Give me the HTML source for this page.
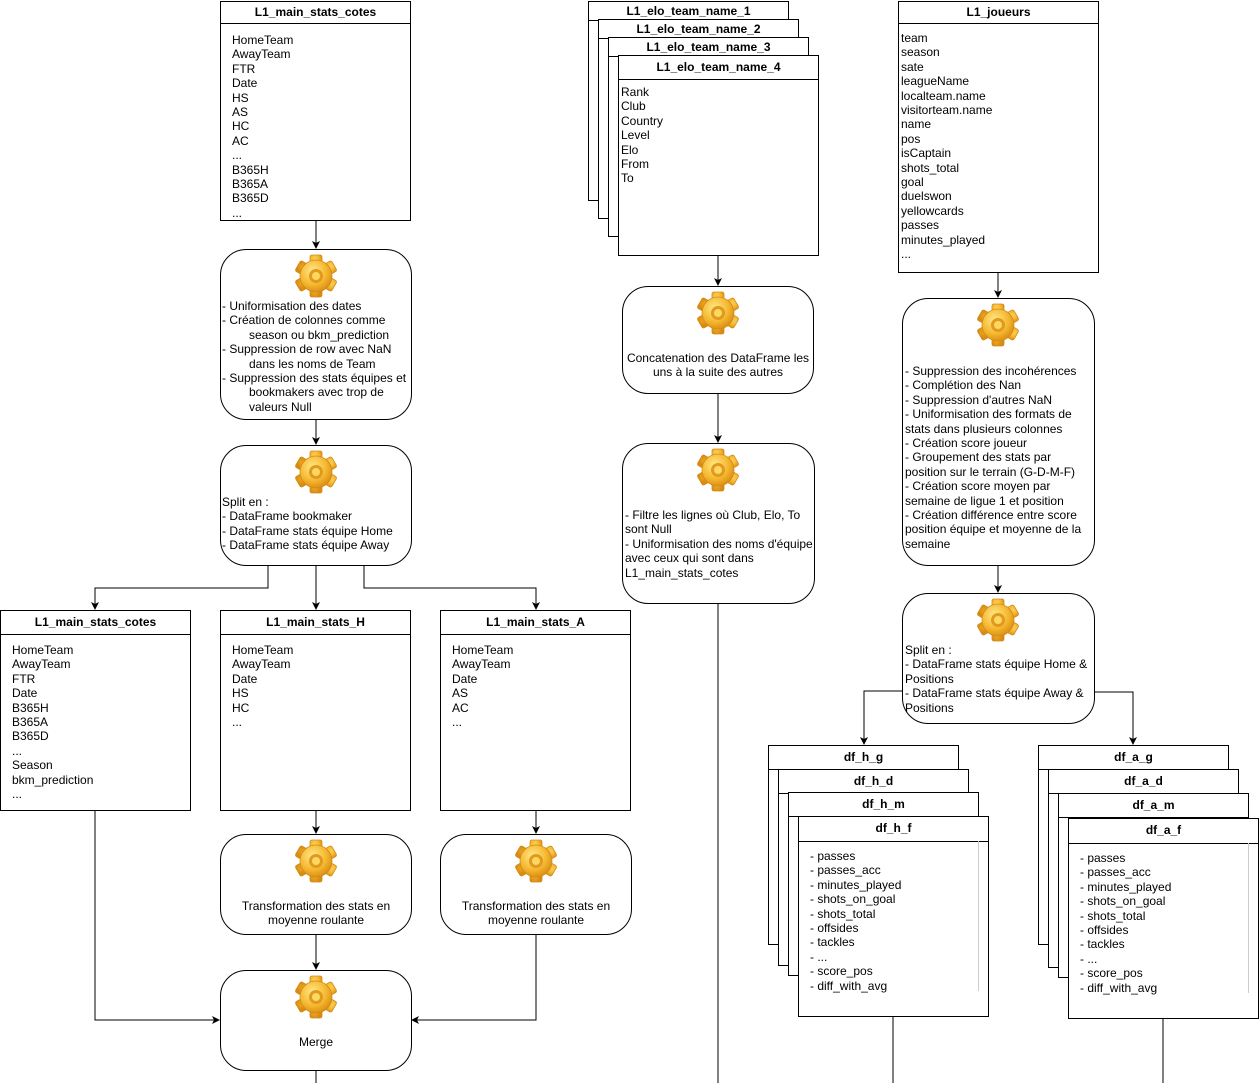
<!DOCTYPE html>
<html><head><meta charset="utf-8"><style>
body{margin:0;width:1260px;height:1083px;background:#fff;position:relative;overflow:hidden;font-family:"Liberation Sans",sans-serif;font-size:12px;color:#000}
.b{position:absolute;border:1px solid #000;background:#fff;box-sizing:border-box}
.h{position:absolute;left:0;right:0;top:0;border-bottom:1px solid #000;text-align:center;font-weight:bold;font-size:12px;box-sizing:border-box}
.t{position:absolute;line-height:14.4px;white-space:pre;font-size:12px}
.i{padding-left:27px}
.p{position:absolute;border:1px solid #000;border-radius:26px;background:#fff;box-sizing:border-box}
svg{position:absolute;left:0;top:0}
</style></head><body>
<svg width="1260" height="1083" style="z-index:0">
<defs><marker id="a" markerWidth="8" markerHeight="8" refX="7" refY="4" orient="auto" markerUnits="userSpaceOnUse"><path d="M0,0 L8,4 L0,8 L2,4z" fill="#000"/></marker></defs>
<g stroke="#000" fill="none" stroke-width="1" marker-end="url(#a)">
<path d="M316 220V248"/><path d="M316 419V444"/>
<path d="M268 565V588H95V609"/><path d="M316 565V609"/><path d="M364 565V588H536V609"/>
<path d="M316 800V833"/><path d="M536 800V833"/><path d="M316 934V969"/>
<path d="M95 810V1020H219"/><path d="M536 934V1020H412"/>
<path d="M718 255V285"/><path d="M718 393V442"/>
<path d="M998 272V297"/><path d="M998 565V592"/>
<path d="M902 691H864V744"/><path d="M1094 692H1133V744"/>
</g>
<g stroke="#000"><path d="M316 1070V1083M718 603V1083M893 1016V1083M1163 1018V1083"/></g>
</svg>

<div class="b" style="left:220px;top:1px;width:191px;height:220px"><div class="h" style="height:22px;line-height:21px">L1_main_stats_cotes</div></div>
<div class="t" style="left:232px;top:33px">HomeTeam
AwayTeam
FTR
Date
HS
AS
HC
AC
...
B365H
B365A
B365D
...</div>

<div class="p" style="left:220px;top:249px;width:192px;height:171px"></div>
<div class="t" style="left:222px;top:299px">- Uniformisation des dates
- Création de colonnes comme
<span class="i">season ou bkm_prediction</span>
- Suppression de row avec NaN
<span class="i">dans les noms de Team</span>
- Suppression des stats équipes et
<span class="i">bookmakers avec trop de</span>
<span class="i">valeurs Null</span></div>

<div class="p" style="left:220px;top:445px;width:192px;height:121px"></div>
<div class="t" style="left:222px;top:495px">Split en :
- DataFrame bookmaker
- DataFrame stats équipe Home
- DataFrame stats équipe Away</div>

<div class="b" style="left:0px;top:610px;width:191px;height:201px"><div class="h" style="height:24px;line-height:23px">L1_main_stats_cotes</div></div>
<div class="t" style="left:12px;top:643px">HomeTeam
AwayTeam
FTR
Date
B365H
B365A
B365D
...
Season
bkm_prediction
...</div>
<div class="b" style="left:220px;top:610px;width:191px;height:201px"><div class="h" style="height:24px;line-height:23px">L1_main_stats_H</div></div>
<div class="t" style="left:232px;top:643px">HomeTeam
AwayTeam
Date
HS
HC
...</div>
<div class="b" style="left:440px;top:610px;width:191px;height:201px"><div class="h" style="height:24px;line-height:23px">L1_main_stats_A</div></div>
<div class="t" style="left:452px;top:643px">HomeTeam
AwayTeam
Date
AS
AC
...</div>

<div class="p" style="left:220px;top:834px;width:192px;height:101px"></div>
<div class="t" style="left:220px;width:192px;text-align:center;top:899px">Transformation des stats en
moyenne roulante</div>
<div class="p" style="left:440px;top:834px;width:192px;height:101px"></div>
<div class="t" style="left:440px;width:192px;text-align:center;top:899px">Transformation des stats en
moyenne roulante</div>
<div class="p" style="left:220px;top:970px;width:192px;height:101px"></div>
<div class="t" style="left:220px;width:192px;text-align:center;top:1035px">Merge</div>

<div class="b" style="left:588px;top:1px;width:201px;height:200px"><div class="h" style="height:19px;line-height:19px">L1_elo_team_name_1</div></div>
<div class="b" style="left:598px;top:19px;width:201px;height:200px"><div class="h" style="height:19px;line-height:19px">L1_elo_team_name_2</div></div>
<div class="b" style="left:608px;top:37px;width:201px;height:200px"><div class="h" style="height:19px;line-height:19px">L1_elo_team_name_3</div></div>
<div class="b" style="left:618px;top:55px;width:201px;height:201px"><div class="h" style="height:24px;line-height:22px">L1_elo_team_name_4</div></div>
<div class="t" style="left:621px;top:85px">Rank
Club
Country
Level
Elo
From
To</div>

<div class="p" style="left:622px;top:286px;width:192px;height:108px"></div>
<div class="t" style="left:622px;width:192px;text-align:center;top:351px">Concatenation des DataFrame les
uns à la suite des autres</div>
<div class="p" style="left:622px;top:443px;width:193px;height:161px"></div>
<div class="t" style="left:625px;top:508px">- Filtre les lignes où Club, Elo, To
sont Null
- Uniformisation des noms d'équipe
avec ceux qui sont dans
L1_main_stats_cotes</div>

<div class="b" style="left:898px;top:1px;width:201px;height:272px"><div class="h" style="height:22px;line-height:21px">L1_joueurs</div></div>
<div class="t" style="left:901px;top:31px">team
season
sate
leagueName
localteam.name
visitorteam.name
name
pos
isCaptain
shots_total
goal
duelswon
yellowcards
passes
minutes_played
...</div>

<div class="p" style="left:902px;top:298px;width:193px;height:268px"></div>
<div class="t" style="left:905px;top:364px">- Suppression des incohérences
- Complétion des Nan
- Suppression d'autres NaN
- Uniformisation des formats de
stats dans plusieurs colonnes
- Création score joueur
- Groupement des stats par
position sur le terrain (G-D-M-F)
- Création score moyen par
semaine de ligue 1 et position
- Création différence entre score
position équipe et moyenne de la
semaine</div>
<div class="p" style="left:902px;top:593px;width:193px;height:131px"></div>
<div class="t" style="left:905px;top:643px">Split en :
- DataFrame stats équipe Home &amp;
Positions
- DataFrame stats équipe Away &amp;
Positions</div>

<div class="b" style="left:768px;top:745px;width:191px;height:200px"><div class="h" style="height:24px;line-height:23px">df_h_g</div></div>
<div class="b" style="left:778px;top:769px;width:191px;height:197px"><div class="h" style="height:24px;line-height:23px">df_h_d</div></div>
<div class="b" style="left:788px;top:792px;width:191px;height:184px"><div class="h" style="height:24px;line-height:23px">df_h_m</div></div>
<div class="b" style="left:798px;top:816px;width:191px;height:201px"><div class="h" style="height:25px;line-height:23px">df_h_f</div></div>
<div style="position:absolute;left:978px;top:841px;width:1px;height:150px;background:#ccc"></div>
<div class="t" style="left:810px;top:849px">- passes
- passes_acc
- minutes_played
- shots_on_goal
- shots_total
- offsides
- tackles
- ...
- score_pos
- diff_with_avg</div>

<div class="b" style="left:1038px;top:745px;width:191px;height:200px"><div class="h" style="height:24px;line-height:23px">df_a_g</div></div>
<div class="b" style="left:1048px;top:769px;width:191px;height:199px"><div class="h" style="height:24px;line-height:23px">df_a_d</div></div>
<div class="b" style="left:1058px;top:793px;width:191px;height:185px"><div class="h" style="height:24px;line-height:23px">df_a_m</div></div>
<div class="b" style="left:1068px;top:818px;width:191px;height:201px"><div class="h" style="height:25px;line-height:23px">df_a_f</div></div>
<div style="position:absolute;left:1248px;top:843px;width:1px;height:150px;background:#ccc"></div>
<div class="t" style="left:1080px;top:851px">- passes
- passes_acc
- minutes_played
- shots_on_goal
- shots_total
- offsides
- tackles
- ...
- score_pos
- diff_with_avg</div>

<svg width="1260" height="1083" style="z-index:5;pointer-events:none">
<defs>
<radialGradient id="gg" cx="40%" cy="35%" r="70%"><stop offset="0" stop-color="#ffe98a"/><stop offset="0.6" stop-color="#f6b830"/><stop offset="1" stop-color="#d98a10"/></radialGradient>
<g id="g">
<g fill="url(#gg)" stroke="#d08a18" stroke-width="0.8">
<rect x="-6" y="-21" width="12" height="42" rx="2"/>
<rect x="-6" y="-21" width="12" height="42" rx="2" transform="rotate(60)"/>
<rect x="-6" y="-21" width="12" height="42" rx="2" transform="rotate(120)"/>
<circle r="16"/>
</g>
<circle r="7" fill="#e09a20"/><circle r="4" fill="#fcd860"/>
</g>
</defs>
<use href="#g" x="316" y="276"/>
<use href="#g" x="316" y="472"/>
<use href="#g" x="316" y="861"/>
<use href="#g" x="536" y="861"/>
<use href="#g" x="316" y="997"/>
<use href="#g" x="718" y="313"/>
<use href="#g" x="718" y="470"/>
<use href="#g" x="998" y="325"/>
<use href="#g" x="998" y="620"/>
</svg>
</body></html>
